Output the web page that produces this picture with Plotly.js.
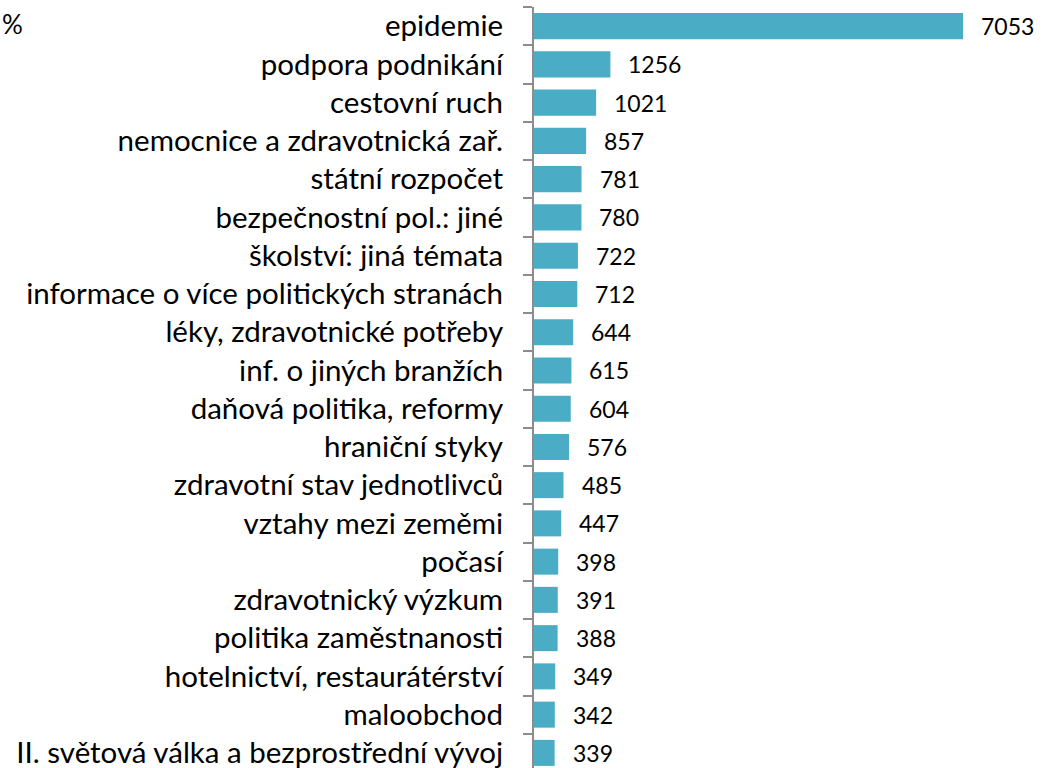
<!DOCTYPE html>
<html>
<head>
<meta charset="utf-8">
<script src="https://cdn.plot.ly/plotly-3.0.1.min.js"></script>
<style>html,body{margin:0;padding:0;background:#fff;}#chart{width:1053px;height:768px;}</style>
</head>
<body>
<div id="chart"></div>
<script>
const categories = [
  "epidemie",
  "podpora podnikání",
  "cestovní ruch",
  "nemocnice a zdravotnická zař.",
  "státní rozpočet",
  "bezpečnostní pol.: jiné",
  "školství: jiná témata",
  "informace o více politických stranách",
  "léky, zdravotnické potřeby",
  "inf. o jiných branžích",
  "daňová politika, reformy",
  "hraniční styky",
  "zdravotní stav jednotlivců",
  "vztahy mezi zeměmi",
  "počasí",
  "zdravotnický výzkum",
  "politika zaměstnanosti",
  "hotelnictví, restaurátérství",
  "maloobchod",
  "II. světová válka a bezprostřední vývoj"
];
const values = [7053, 1256, 1021, 857, 781, 780, 722, 712, 644, 615, 604, 576, 485, 447, 398, 391, 388, 349, 342, 339];
const unitLabel = "%";

const labelFont = "Lato, 'Open Sans', sans-serif";

const trace = {
  type: "bar",
  orientation: "h",
  x: values,
  y: categories,
  marker: {color: "#4BACC6", line: {width: 0}},
  width: 0.68,
  hoverinfo: "x+y"
};

const annotations = values.map((v, i) => ({
  x: v, y: categories[i], xref: "x", yref: "y",
  text: String(v), showarrow: false,
  xanchor: "left", yanchor: "middle", xshift: 16,
  font: {family: labelFont, size: 23, color: "#000"}
}));
annotations.push({
  xref: "paper", yref: "paper", x: (0 - 534) / 519, y: 1.0, xanchor: "left", yanchor: "top",
  yshift: 1, text: unitLabel, showarrow: false,
  font: {family: labelFont, size: 26, color: "#000"}
});

const layout = {
  width: 1053, height: 768,
  margin: {l: 534, r: 0, t: 7, b: 0, pad: 0},
  paper_bgcolor: "#fff", plot_bgcolor: "#fff",
  showlegend: false,
  bargap: 0.32,
  xaxis: {range: [0, 8532], visible: false, fixedrange: true},
  yaxis: {
    type: "category",
    categoryorder: "array", categoryarray: categories,
    range: [19.395, -0.5],
    showline: true, linecolor: "#8c8c8c", linewidth: 2,
    ticks: "outside", tickson: "boundaries", ticklen: 9, tickwidth: 2, tickcolor: "#8c8c8c",
    showgrid: false, zeroline: false,
    ticklabelstandoff: 23,
    tickfont: {family: labelFont, size: 29.5, color: "#000"},
    automargin: false
  },
  annotations: annotations
};

Plotly.newPlot("chart", [trace], layout, {displayModeBar: false, staticPlot: true});
</script>
</body>
</html>
